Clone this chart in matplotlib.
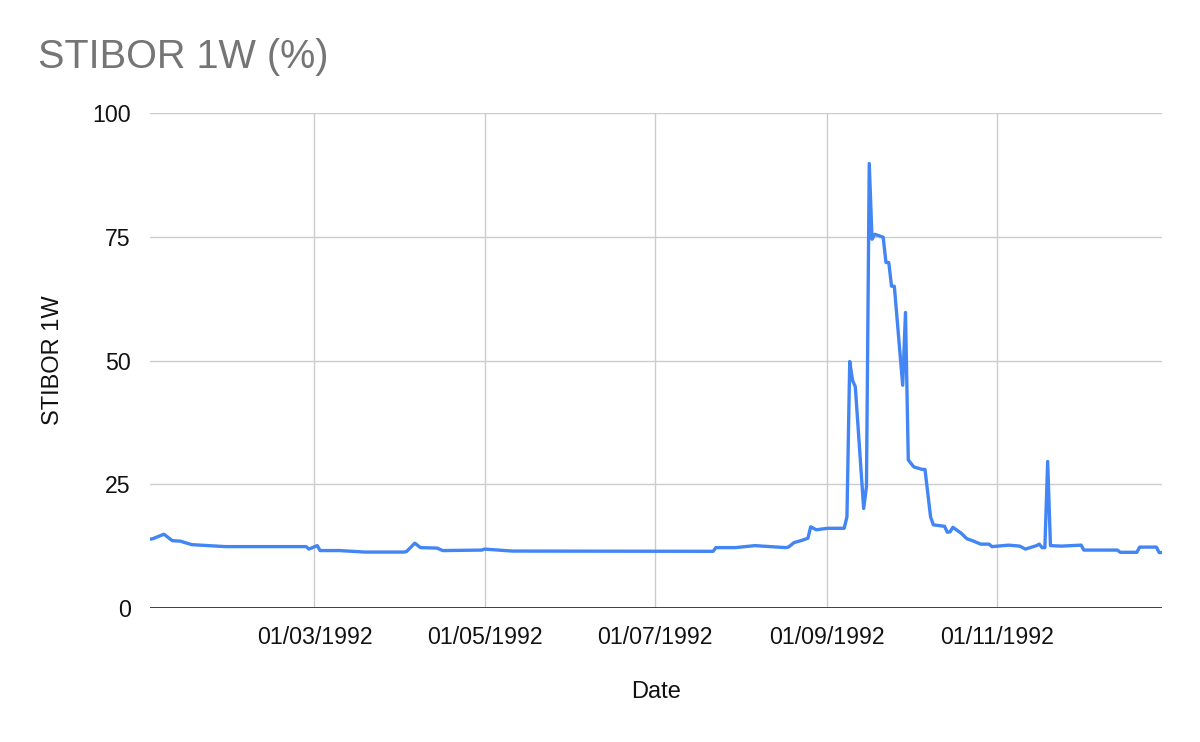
import matplotlib
matplotlib.use("Agg")
import matplotlib.pyplot as plt
import matplotlib.dates as mdates
import pandas as pd

# STIBOR 1W, 1992
dates = [
    "1992-01-02", "1992-01-03", "1992-01-07", "1992-01-10", "1992-01-13", "1992-01-14",
    "1992-01-17", "1992-01-29", "1992-02-27", "1992-02-28", "1992-03-02", "1992-03-03",
    "1992-03-10", "1992-03-19", "1992-04-02", "1992-04-03", "1992-04-06", "1992-04-08",
    "1992-04-14", "1992-04-16", "1992-04-30", "1992-05-01", "1992-05-11", "1992-07-22",
    "1992-07-23", "1992-07-30", "1992-08-06", "1992-08-17", "1992-08-18", "1992-08-20",
    "1992-08-23", "1992-08-25", "1992-08-26", "1992-08-28", "1992-09-01", "1992-09-07",
    "1992-09-08", "1992-09-09", "1992-09-10", "1992-09-11", "1992-09-14", "1992-09-15",
    "1992-09-16", "1992-09-17", "1992-09-18", "1992-09-21", "1992-09-22", "1992-09-23",
    "1992-09-24", "1992-09-25", "1992-09-28", "1992-09-29", "1992-09-30", "1992-10-02",
    "1992-10-05", "1992-10-06", "1992-10-08", "1992-10-09", "1992-10-13", "1992-10-14",
    "1992-10-15", "1992-10-16", "1992-10-19", "1992-10-21", "1992-10-23", "1992-10-26",
    "1992-10-29", "1992-10-30", "1992-11-05", "1992-11-09", "1992-11-11", "1992-11-15",
    "1992-11-16", "1992-11-17", "1992-11-18", "1992-11-19", "1992-11-20", "1992-11-24",
    "1992-12-01", "1992-12-02", "1992-12-14", "1992-12-15", "1992-12-21", "1992-12-22",
    "1992-12-28", "1992-12-29", "1992-12-30",
]
rates = [
    13.9, 14.0, 14.9, 13.6, 13.5, 13.3,
    12.8, 12.4, 12.4, 11.9, 12.6, 11.6,
    11.6, 11.3, 11.3, 11.4, 13.1, 12.2,
    12.1, 11.6, 11.7, 11.9, 11.5, 11.45,
    12.2, 12.2, 12.6, 12.2, 12.3, 13.2,
    13.7, 14.1, 16.4, 15.8, 16.1, 16.1,
    18.4, 49.8, 46.0, 44.7, 20.1, 24.5,
    89.8, 74.5, 75.5, 74.9, 69.8, 69.8,
    65.0, 65.0, 45.0, 59.7, 29.9, 28.5,
    28.0, 28.0, 18.4, 16.8, 16.5, 15.3,
    15.4, 16.3, 15.1, 14.0, 13.6, 12.9,
    12.9, 12.4, 12.7, 12.5, 11.9, 12.6,
    12.9, 12.2, 12.2, 29.6, 12.6, 12.5,
    12.7, 11.7, 11.7, 11.25, 11.25, 12.3,
    12.3, 11.2, 11.2,
]
x_ticks = ["1992-03-01", "1992-05-01", "1992-07-01", "1992-09-01", "1992-11-01"]
y_ticks = [0, 25, 50, 75, 100]

plt.rcParams['font.family'] = ['Liberation Sans', 'DejaVu Sans']

x = pd.to_datetime(dates)

fig = plt.figure(figsize=(12, 7.42), dpi=100)
ax = fig.add_axes([0.125, 0.1806, 0.8433, 0.6671])

ax.plot(x, rates, color="#4285F4", linewidth=2.4, solid_joinstyle="round", zorder=3)

ax.set_xlim(x[0], x[-1])
ax.set_ylim(0, 100)
ax.set_yticks(y_ticks)
ax.set_xticks(pd.to_datetime(x_ticks))
ax.xaxis.set_major_formatter(mdates.DateFormatter('%d/%m/%Y'))

ax.grid(True, color="#cccccc", linewidth=1)
ax.axhline(0, color="#333333", linewidth=1.3, zorder=4)
for s in ax.spines.values():
    s.set_visible(False)
ax.tick_params(length=0, labelsize=16.7, colors="#111111")
ax.tick_params(axis='y', pad=14)
ax.tick_params(axis='x', pad=13)

ax.set_xlabel("Date", fontsize=17, color="#111111", labelpad=23)
ax.set_ylabel("STIBOR 1W", fontsize=17, color="#111111", labelpad=20)

fig.text(38 / 1200, 1 - 57 / 742, "STIBOR 1W (%)", fontsize=28.5, color="#757575",
         ha="left", va="center")

fig.savefig("out.png", dpi=100)
